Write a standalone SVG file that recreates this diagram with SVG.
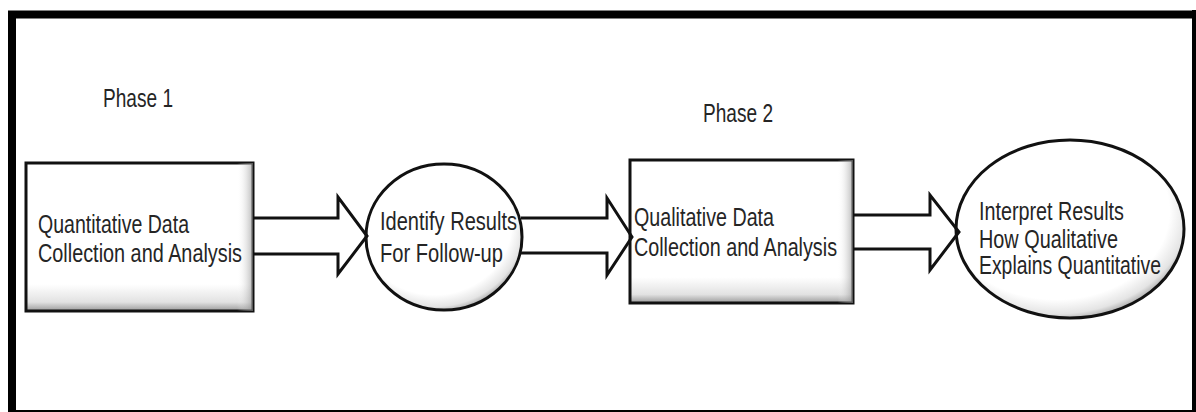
<svg xmlns="http://www.w3.org/2000/svg" width="1196" height="412" viewBox="0 0 1196 412">
  <style>
    .lbl { font-family: "Liberation Sans", Arial, sans-serif; font-size: 25px; fill: #252525; }
    .box { fill: url(#boxShade); stroke: #111; stroke-width: 3; }
    .oval { fill: url(#ovalShade); stroke: #111; stroke-width: 3; }
    .arrow { fill: none; stroke: #111; stroke-width: 3; stroke-linejoin: miter; }
  </style>
  <defs>
    <linearGradient id="boxShade" x1="0" y1="0" x2="0" y2="1">
      <stop offset="0" stop-color="#ffffff"/>
      <stop offset="0.82" stop-color="#ffffff"/>
      <stop offset="0.94" stop-color="#e2e2e2"/>
      <stop offset="1" stop-color="#9a9a9a"/>
    </linearGradient>
    <linearGradient id="boxSide" x1="0" y1="0" x2="1" y2="0">
      <stop offset="0.93" stop-color="#ffffff" stop-opacity="0"/>
      <stop offset="1" stop-color="#8a8a8a" stop-opacity="0.6"/>
    </linearGradient>
    <radialGradient id="ovalShade" cx="0.44" cy="0.4" r="0.62">
      <stop offset="0" stop-color="#ffffff"/>
      <stop offset="0.8" stop-color="#ffffff"/>
      <stop offset="0.93" stop-color="#e4e4e4"/>
      <stop offset="1" stop-color="#a8a8a8"/>
    </radialGradient>
  </defs>

  <rect width="1196" height="412" fill="#ffffff"/>

  <!-- outer frame -->
  <g id="frame">
    <path d="M12,412 V14.5 H1196" fill="none" stroke="#000" stroke-width="8"/>
    <line x1="1196" y1="10" x2="1196" y2="412" stroke="#000" stroke-width="8"/>
    <line x1="12" y1="411" x2="1196" y2="411" stroke="#000" stroke-width="2"/>
  </g>

  <!-- phase headings -->
  <g id="phase1">
    <text class="lbl" x="103" y="107" textLength="70" lengthAdjust="spacingAndGlyphs">Phase 1</text>
  </g>
  <g id="phase2">
    <text class="lbl" x="703" y="122" textLength="70" lengthAdjust="spacingAndGlyphs">Phase 2</text>
  </g>

  <!-- step 1: quantitative box -->
  <g id="quantitative">
    <rect class="box" x="26" y="163" width="227" height="148"/>
    <rect x="26" y="163" width="227" height="148" fill="url(#boxSide)"/>
    <text class="lbl" x="38" y="233" textLength="151" lengthAdjust="spacingAndGlyphs">Quantitative Data</text>
    <text class="lbl" x="38" y="262" textLength="204" lengthAdjust="spacingAndGlyphs">Collection and Analysis</text>
  </g>

  <!-- step 2: identify results -->
  <g id="identify">
    <ellipse class="oval" cx="444" cy="237" rx="78" ry="73"/>
    <text class="lbl" x="380" y="230" textLength="137" lengthAdjust="spacingAndGlyphs">Identify Results</text>
    <text class="lbl" x="380" y="262" textLength="123" lengthAdjust="spacingAndGlyphs">For Follow-up</text>
  </g>

  <!-- step 3: qualitative box -->
  <g id="qualitative">
    <rect class="box" x="630" y="160" width="223" height="143"/>
    <rect x="630" y="160" width="223" height="143" fill="url(#boxSide)"/>
    <text class="lbl" x="634" y="226" textLength="140" lengthAdjust="spacingAndGlyphs">Qualitative Data</text>
    <text class="lbl" x="634" y="256" textLength="203" lengthAdjust="spacingAndGlyphs">Collection and Analysis</text>
  </g>

  <!-- step 4: interpretation -->
  <g id="interpret">
    <ellipse class="oval" cx="1070" cy="229" rx="114" ry="89"/>
    <text class="lbl" x="979" y="220" textLength="145" lengthAdjust="spacingAndGlyphs">Interpret Results</text>
    <text class="lbl" x="979" y="248" textLength="139" lengthAdjust="spacingAndGlyphs">How Qualitative</text>
    <text class="lbl" x="979" y="274" textLength="182" lengthAdjust="spacingAndGlyphs">Explains Quantitative</text>
  </g>

  <!-- block arrows between steps -->
  <g id="connectors">
    <polyline class="arrow" points="254,218 338,218 338,197 367,236 338,274 338,254 254,254"/>
    <polyline class="arrow" points="521,218 607,218 607,198 632,237 607,275 607,253 521,253"/>
    <polyline class="arrow" points="854,215 930,215 930,195 959,232 930,270 930,249 854,249"/>
  </g>
</svg>
